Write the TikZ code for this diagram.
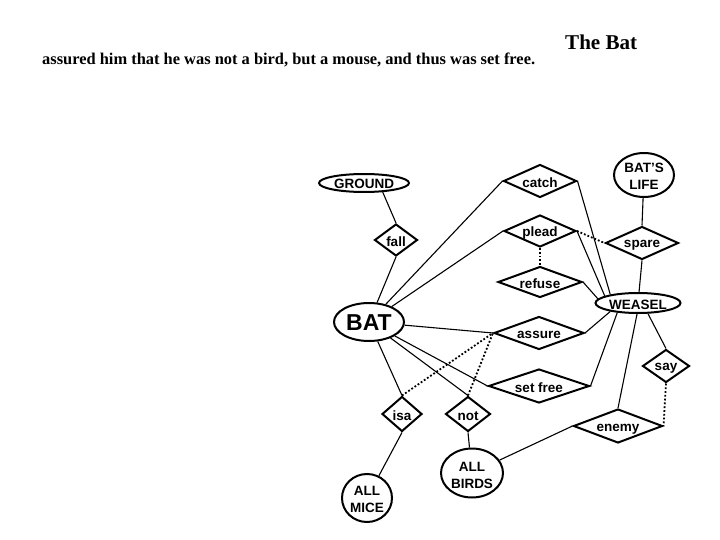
\documentclass[tikz,border=0pt]{standalone}
\usepackage{fontspec}
\setmainfont{Liberation Sans}
\newfontfamily\storyfont{Liberation Serif}
\usetikzlibrary{shapes.geometric}
\tikzset{
  ent/.style={ellipse, draw, line width=2pt, inner sep=0pt},
  rel/.style={diamond, draw, line width=2pt, inner sep=0pt},
  lbl/.style={font=\fontsize{13.5}{17}\selectfont\bfseries, align=center, inner sep=0pt, yshift=-2pt},
  conn/.style={line width=1.1pt},
  dots/.style={line width=1.8pt, dotted},
}
\begin{document}
\begin{tikzpicture}[x=1pt,y=-1pt]
\useasboundingbox[fill=white] (0,0) rectangle (720,540);
% titles
\node[anchor=west, inner sep=0pt] (title) at (565,42) {\resizebox{72pt}{!}{\storyfont\bfseries The Bat}};
\node[anchor=west, inner sep=0pt] (story) at (42,60) {\resizebox{493pt}{!}{\storyfont\bfseries assured him that he was not a bird, but a mouse, and thus was set free.}};
% entities
\node[ent, minimum width=90pt, minimum height=18pt, label={[lbl, yshift=1pt]center:GROUND}] (ground) at (364,183) {};
\node[ent, minimum width=60pt, minimum height=44pt, label={[lbl, yshift=1pt]center:BAT'S\\LIFE}] (batslife) at (644,175) {};
\node[ent, minimum width=85pt, minimum height=20pt, label={[lbl]center:WEASEL}] (weasel) at (638,303) {};
\node[ent, minimum width=70pt, minimum height=38pt, label={[lbl, font=\fontsize{23}{28}\selectfont\bfseries, yshift=1pt]center:BAT}] (bat) at (369,322) {};
\node[ent, minimum width=50pt, minimum height=48pt, label={[lbl, yshift=1pt]center:ALL\\MICE}] (allmice) at (367,498) {};
\node[ent, minimum width=62pt, minimum height=49pt, label={[lbl]center:ALL\\BIRDS}] (allbirds) at (472,473) {};
% relations
\node[rel, minimum width=73pt, minimum height=33pt, label={[lbl]center:catch}] (catch) at (540,181) {};
\node[rel, minimum width=43pt, minimum height=32pt, label={[lbl]center:fall}] (fall) at (396,240) {};
\node[rel, minimum width=72pt, minimum height=32pt, label={[lbl]center:plead}] (plead) at (540,231) {};
\node[rel, minimum width=73pt, minimum height=33pt, label={[lbl]center:spare}] (spare) at (642,243) {};
\node[rel, minimum width=84pt, minimum height=31pt, label={[lbl]center:refuse}] (refuse) at (540,282) {};
\node[rel, minimum width=90pt, minimum height=33pt, label={[lbl]center:assure}] (assure) at (539,333) {};
\node[rel, minimum width=101pt, minimum height=34pt, label={[lbl]center:set free}] (setfree) at (539,386) {};
\node[rel, minimum width=47pt, minimum height=33pt, label={[lbl]center:say}] (say) at (666,366) {};
\node[rel, minimum width=89pt, minimum height=34pt, label={[lbl, yshift=-1pt]center:enemy}] (enemy) at (618,426) {};
\node[rel, minimum width=40pt, minimum height=35pt, label={[lbl]center:isa}] (isa) at (402,414) {};
\node[rel, minimum width=45pt, minimum height=35pt, label={[lbl]center:not}] (not) at (468,414) {};
% solid connectors
\draw[conn] (ground.334) -- (fall.north);
\draw[conn] (fall.south) -- (bat);
\draw[conn] (bat) -- (catch.west);
\draw[conn] (bat) -- (plead.west);
\draw[conn] (catch.east) -- (weasel.163);
\draw[conn] (plead.east) -- (weasel.168);
\draw[conn] (refuse.east) -- (weasel.174);
\draw[conn] (batslife) -- (spare.north);
\draw[conn] (spare.south) -- (weasel);
\draw[conn] (bat) -- (assure.west);
\draw[conn] (assure.east) -- (weasel.197);
\draw[conn] (bat) -- (setfree.west);
\draw[conn] (setfree.east) -- (weasel.205);
\draw[conn] (bat) -- (isa.north);
\draw[conn] (bat) -- (not.north);
\draw[conn] (weasel.313) -- (say.north);
\draw[conn] (weasel.265) -- (enemy.north);
\draw[conn] (enemy.west) -- (allbirds);
\draw[conn] (isa.south) -- (allmice);
\draw[conn] (not.south) -- (allbirds);
% dotted connectors
\draw[dots] (plead.east) -- (spare.west);
\draw[dots] (plead.south) -- (refuse.north);
\draw[dots] (isa.north) -- (assure.west);
\draw[dots] (not.north) -- (assure.west);
\draw[dots] (say.south) -- (enemy.east);
\end{tikzpicture}
\end{document}
